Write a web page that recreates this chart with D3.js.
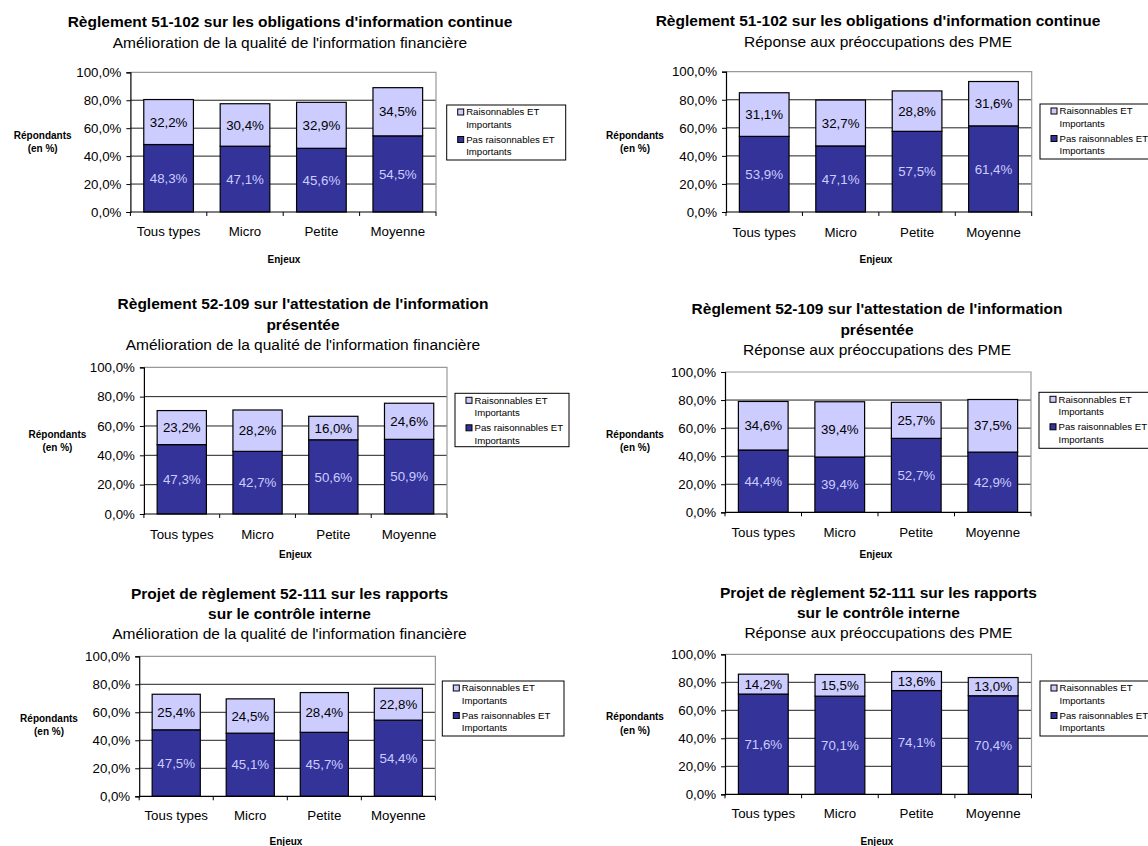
<!DOCTYPE html>
<html lang="fr">
<head>
<meta charset="UTF-8">
<title>Règlements - enjeux</title>
<script src="https://d3js.org/d3.v7.min.js"></script>
<style>
  body { margin: 0; background: #fff; }
  svg { display: block; font-family: "Liberation Sans", Arial, sans-serif; }
  .title { font-weight: bold; font-size: 15.5px; }
  .subtitle { font-size: 15.5px; }
  .tick text { font-size: 13.3px; font-family: "Liberation Sans", Arial, sans-serif; }
  .xlab { font-size: 13.3px; }
  .val { font-size: 13.3px; }
  .axtitle { font-weight: bold; font-size: 10px; }
  .legend text { font-size: 9.6px; }
</style>
</head>
<body>
<div id="chart"></div>
<script>
const width = 1148;
const height = 846;

// catégories et séries
const categories = ["Tous types", "Micro", "Petite", "Moyenne"];
const legendLabels = [["Raisonnables ET", "Importants"], ["Pas raisonnables ET", "Importants"]];
const yTicks = [0, 20, 40, 60, 80, 100];

const titles = [
  ["Règlement 51-102 sur les obligations d'information continue"],
  ["Règlement 51-102 sur les obligations d'information continue"],
  ["Règlement 52-109 sur l'attestation de l'information", "présentée"],
  ["Règlement 52-109 sur l'attestation de l'information", "présentée"],
  ["Projet de règlement 52-111 sur les rapports", "sur le contrôle interne"],
  ["Projet de règlement 52-111 sur les rapports", "sur le contrôle interne"]
];
const subtitles = [
  "Amélioration de la qualité de l'information financière",
  "Réponse aux préoccupations des PME",
  "Amélioration de la qualité de l'information financière",
  "Réponse aux préoccupations des PME",
  "Amélioration de la qualité de l'information financière",
  "Réponse aux préoccupations des PME"
];

// Pas raisonnables ET Importants (bas de la barre)
const pasRaisonnables = [
  [48.3, 47.1, 45.6, 54.5],
  [53.9, 47.1, 57.5, 61.4],
  [47.3, 42.7, 50.6, 50.9],
  [44.4, 39.4, 52.7, 42.9],
  [47.5, 45.1, 45.7, 54.4],
  [71.6, 70.1, 74.1, 70.4]
];
// Raisonnables ET Importants (haut de la barre)
const raisonnables = [
  [32.2, 30.4, 32.9, 34.5],
  [31.1, 32.7, 28.8, 31.6],
  [23.2, 28.2, 16.0, 24.6],
  [34.6, 39.4, 25.7, 37.5],
  [25.4, 24.5, 28.4, 22.8],
  [14.2, 15.5, 13.6, 13.0]
];

// mise en page de chaque panneau
const layouts = [
  { plot: [130.4, 436, 72.3, 212], titleY: [21.7], subY: 42.3, cx: 290, ylab: [42.7, 135], xlabY: 231, enjeux: [284, 259.3], legend: [446.7, 105, 119, 55] },
  { plot: [726, 1031.7, 71.7, 212], titleY: [20.7], subY: 41.7, cx: 878, ylab: [635, 135], xlabY: 232.3, enjeux: [876, 259.3], legend: [1040, 104, 119, 55] },
  { plot: [143.9, 447, 367.3, 514], titleY: [303.3, 324.3], subY: 344.3, cx: 303, ylab: [57.4, 434.3], xlabY: 534, enjeux: [295.5, 554.3], legend: [455, 393.3, 114, 53.4] },
  { plot: [725, 1031, 372, 512.3], titleY: [308.3, 329.3], subY: 350, cx: 877, ylab: [635, 434.3], xlabY: 532.3, enjeux: [876, 554], legend: [1039, 392.3, 119, 56] },
  { plot: [139.2, 435.4, 656.3, 796.3], titleY: [593.3, 613.3], subY: 634, cx: 289.5, ylab: [49, 718.3], xlabY: 815.7, enjeux: [286, 841.7], legend: [442.3, 681, 121.7, 55] },
  { plot: [725, 1031.5, 654.3, 794.3], titleY: [592.3, 612.7], subY: 632.7, cx: 878.4, ylab: [635, 716.7], xlabY: 813, enjeux: [877, 841.7], legend: [1040, 681, 119, 55] }
];

const darkColor = "#333399";
const lightColor = "#CCCCFF";
const fmt = d => d3.format(".1f")(d).replace(".", ",") + "%";

const svg = d3.select("#chart").append("svg")
  .attr("width", width)
  .attr("height", height);

layouts.forEach((L, i) => {
  const [x0, x1, y0, y1] = L.plot;
  const g = svg.append("g");

  const x = d3.scaleBand().domain(categories).range([x0, x1])
    .paddingInner(0.35).paddingOuter(0.175);
  const y = d3.scaleLinear().domain([0, 100]).range([y1, y0]);

  // titres
  titles[i].forEach((t, k) => {
    g.append("text").attr("class", "title")
      .attr("x", L.cx).attr("y", L.titleY[k]).attr("dy", "0.35em")
      .attr("text-anchor", "middle").text(t);
  });
  g.append("text").attr("class", "subtitle")
    .attr("x", L.cx).attr("y", L.subY).attr("dy", "0.35em")
    .attr("text-anchor", "middle").text(subtitles[i]);

  // grille
  g.selectAll(".grid").data(yTicks.filter(d => d > 0 && d < 100)).enter()
    .append("line")
    .attr("x1", x0).attr("x2", x1)
    .attr("y1", d => y(d)).attr("y2", d => y(d))
    .attr("stroke", "#222").attr("stroke-width", 1);
  // bordure haut / droite grise
  g.append("path")
    .attr("d", `M${x0},${y(100)}H${x1}V${y1}`)
    .attr("fill", "none").attr("stroke", "#999").attr("stroke-width", 1.2);

  // données empilées
  const table = categories.map((c, j) => ({ cat: c, pas: pasRaisonnables[i][j], rais: raisonnables[i][j] }));
  const stacked = d3.stack().keys(["pas", "rais"])(table);

  stacked.forEach(layer => {
    const isPas = layer.key === "pas";
    g.selectAll(null).data(layer).enter().append("rect")
      .attr("x", d => x(d.data.cat))
      .attr("width", x.bandwidth())
      .attr("y", d => y(d[1]))
      .attr("height", d => y(d[0]) - y(d[1]))
      .attr("fill", isPas ? darkColor : lightColor)
      .attr("stroke", "#000").attr("stroke-width", 1.2);
    g.selectAll(null).data(layer).enter().append("text")
      .attr("class", "val")
      .attr("x", d => x(d.data.cat) + x.bandwidth() / 2)
      .attr("y", d => y((d[0] + d[1]) / 2))
      .attr("dy", "0.35em")
      .attr("text-anchor", "middle")
      .attr("fill", isPas ? lightColor : "#000")
      .text(d => fmt(d.data[layer.key]));
  });

  // axe Y
  const yAxis = g.append("g").attr("transform", `translate(${x0},0)`)
    .call(d3.axisLeft(y).tickValues(yTicks).tickSize(4).tickPadding(5).tickFormat(fmt));
  yAxis.select(".domain").attr("stroke", "#000").attr("stroke-width", 1.2);
  yAxis.selectAll(".tick line").attr("stroke", "#000");
  yAxis.selectAll(".tick text").attr("fill", "#000");

  // axe X
  g.append("line").attr("x1", x0).attr("x2", x1).attr("y1", y1).attr("y2", y1)
    .attr("stroke", "#000").attr("stroke-width", 1.2);
  const step = x.step();
  g.selectAll(null).data(d3.range(categories.length + 1)).enter().append("line")
    .attr("x1", k => x0 + k * step).attr("x2", k => x0 + k * step)
    .attr("y1", y1).attr("y2", y1 + 4)
    .attr("stroke", "#000");
  g.selectAll(null).data(categories).enter().append("text")
    .attr("class", "xlab")
    .attr("x", d => x(d) + x.bandwidth() / 2)
    .attr("y", L.xlabY).attr("dy", "0.35em")
    .attr("text-anchor", "middle").text(d => d);

  // titres des axes
  g.append("text").attr("class", "axtitle")
    .attr("x", L.enjeux[0]).attr("y", L.enjeux[1]).attr("dy", "0.35em")
    .attr("text-anchor", "middle").text("Enjeux");
  g.append("text").attr("class", "axtitle")
    .attr("x", L.ylab[0]).attr("y", L.ylab[1]).attr("dy", "0.35em")
    .attr("text-anchor", "middle").text("Répondants");
  g.append("text").attr("class", "axtitle")
    .attr("x", L.ylab[0]).attr("y", L.ylab[1] + 13.5).attr("dy", "0.35em")
    .attr("text-anchor", "middle").text("(en %)");

  // légende
  const [lx, ly, lw, lh] = L.legend;
  const leg = g.append("g").attr("class", "legend");
  leg.append("rect").attr("x", lx).attr("y", ly).attr("width", lw).attr("height", lh)
    .attr("fill", "#fff").attr("stroke", "#000").attr("stroke-width", 1);
  legendLabels.forEach((lines, k) => {
    const ty = ly + 7 + k * 27.5;
    leg.append("rect")
      .attr("x", lx + 11).attr("y", ty - 3).attr("width", 6).attr("height", 6)
      .attr("fill", k === 0 ? lightColor : darkColor)
      .attr("stroke", "#000").attr("stroke-width", 1);
    lines.forEach((t, m) => {
      leg.append("text").attr("x", lx + 19.5).attr("y", ty + m * 12.5).attr("dy", "0.35em").text(t);
    });
  });
});
</script>
</body>
</html>
